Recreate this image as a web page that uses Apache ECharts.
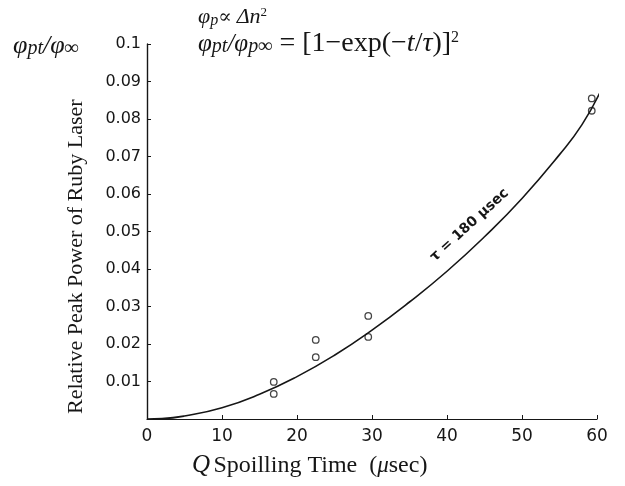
<!DOCTYPE html>
<html>
<head>
<meta charset="utf-8">
<script src="https://cdn.jsdelivr.net/npm/echarts@6/dist/echarts.min.js"></script>
<style>
  html, body { margin: 0; padding: 0; background: #fff; }
  #chart { width: 625px; height: 486px; }
</style>
</head>
<body>
<div id="chart"></div>
<script>
// fitted curve tau = 180 usec
const curveT = [0, 2, 5, 10, 15, 20, 25, 30, 35, 40, 45, 50, 55, 58, 60.5]
const curveY = [0, 0.0001, 0.0008, 0.003, 0.0066, 0.0113, 0.017, 0.0237, 0.0312, 0.0394, 0.0486, 0.0588, 0.0705, 0.0785, 0.0875]

// measured points (open circles)
const pointT = [16.9, 16.9, 22.5, 22.5, 29.5, 29.5, 59.3, 59.3]
const pointY = [0.0099, 0.0067, 0.0211, 0.0165, 0.0275, 0.0219, 0.0855, 0.0822]

const xTicks = ['0', '10', '20', '30', '40', '50', '60']
const yTicks = ['', '0.01', '0.02', '0.03', '0.04', '0.05', '0.06', '0.07', '0.08', '0.09', '0.1']

const ink = '#161616'
const serif = '"Liberation Serif", "DejaVu Serif", serif'
const sans = '"DejaVu Sans", "Liberation Sans", sans-serif'

const myChart = echarts.init(document.getElementById('chart'))

const option = {
  backgroundColor: '#fff',
  animation: false,
  grid: { left: 147, right: 28, top: 44, bottom: 67 },
  xAxis: {
    type: 'value',
    min: 0,
    max: 60,
    interval: 10,
    axisLine: { lineStyle: { color: ink, width: 1.2 } },
    axisTick: { inside: true, length: 4, lineStyle: { color: ink } },
    axisLabel: {
      color: ink,
      fontFamily: sans,
      fontSize: 17,
      margin: 9,
      formatter: (v) => xTicks[Math.round(v / 10)]
    },
    splitLine: { show: false }
  },
  yAxis: {
    type: 'value',
    min: 0,
    max: 0.1,
    interval: 0.01,
    axisLine: { show: true, lineStyle: { color: ink, width: 1.4 } },
    axisTick: { show: true, inside: true, length: 4, lineStyle: { color: ink } },
    axisLabel: {
      color: ink,
      fontFamily: sans,
      fontSize: 16,
      margin: 6,
      formatter: (v) => yTicks[Math.round(v * 100)]
    },
    splitLine: { show: false }
  },
  series: [
    {
      type: 'line',
      data: curveT.map((t, i) => [t, curveY[i]]),
      smooth: true,
      showSymbol: false,
      lineStyle: { color: ink, width: 1.6 }
    },
    {
      type: 'scatter',
      data: pointT.map((t, i) => [t, pointY[i]]),
      symbol: 'circle',
      symbolSize: 6.5,
      itemStyle: { color: '#fff', borderColor: ink, borderWidth: 1.3 }
    }
  ]
}
myChart.setOption(option)

// text around the plot
const labelPos = myChart.convertToPixel({ gridIndex: 0 }, [43, 0.0517])
myChart.setOption({
  graphic: [
    {
      type: 'text',
      x: 65,
      y: 414,
      rotation: Math.PI / 2,
      style: {
        text: 'Relative Peak Power of Ruby Laser',
        font: '22px ' + serif,
        fill: ink
      }
    },
    {
      type: 'text',
      left: 192,
      top: 453,
      style: {
        rich: {
          q: { fontFamily: serif, fontSize: 25, fontStyle: 'italic', fill: ink },
          n: { fontFamily: serif, fontSize: 24, fill: ink },
          mu: { fontFamily: serif, fontSize: 23, fontStyle: 'italic', fill: ink }
        },
        text: '{q|Q} {n|Spoilling Time  (}{mu|μ}{n|sec)}'
      }
    },
    {
      type: 'text',
      left: 13,
      top: 33,
      style: {
        rich: {
          p: { fontFamily: serif, fontSize: 26, fontStyle: 'italic', fill: ink },
          s: { fontFamily: serif, fontSize: 20, fontStyle: 'italic', fill: ink, padding: [6, 0, 0, 0] }
        },
        text: '{p|φ}{s|pt}{p|/φ}{s|∞}'
      }
    },
    {
      type: 'text',
      left: 198,
      top: 6,
      style: {
        rich: {
          p: { fontFamily: serif, fontSize: 22, fontStyle: 'italic', fill: ink },
          s: { fontFamily: serif, fontSize: 16, fontStyle: 'italic', fill: ink, padding: [7, 0, 0, 0] },
          n: { fontFamily: serif, fontSize: 20, fill: ink },
          u: { fontFamily: serif, fontSize: 13, fill: ink, padding: [0, 0, 10, 0] }
        },
        text: '{p|φ}{s|p}{n|∝ }{p|Δn}{u|2}'
      }
    },
    {
      type: 'text',
      left: 198,
      top: 30,
      style: {
        rich: {
          p: { fontFamily: serif, fontSize: 25, fontStyle: 'italic', fill: ink },
          s: { fontFamily: serif, fontSize: 20, fontStyle: 'italic', fill: ink, padding: [6, 0, 0, 0] },
          n: { fontFamily: serif, fontSize: 28, fill: ink },
          t: { fontFamily: serif, fontSize: 28, fontStyle: 'italic', fill: ink },
          u: { fontFamily: serif, fontSize: 16, fill: ink, padding: [0, 0, 12, 0] }
        },
        text: '{p|φ}{s|pt}{p|/φ}{s|p∞}{n| = [1−exp(−}{t|t}{n|/}{t|τ}{n|)]}{u|2}'
      }
    },
    {
      type: 'text',
      x: labelPos[0],
      y: labelPos[1],
      rotation: 0.74,
      style: {
        text: 'τ = 180 μsec',
        font: 'bold 14px ' + sans,
        fill: ink,
        align: 'center',
        verticalAlign: 'middle'
      }
    }
  ]
})
</script>
</body>
</html>
